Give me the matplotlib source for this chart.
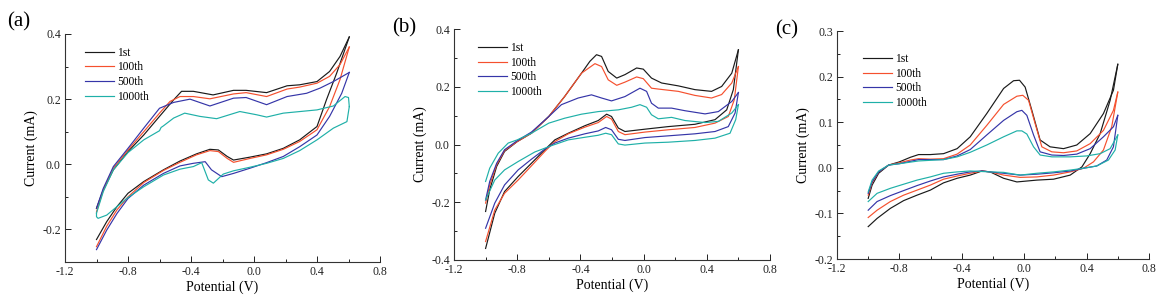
import numpy as np
from matplotlib import pyplot as plt
from matplotlib.ticker import MultipleLocator

plt.rcParams['font.family'] = ['Liberation Serif', 'DejaVu Serif']
plt.rcParams['axes.unicode_minus'] = False

labels = ['1st', '100th', '500th', '1000th']
colors = ['#1a1a1a', '#f5502e', '#3535a8', '#1fb0a8']

# ---- panel (a): (potential V, current mA), anodic branch then cathodic branch
a_1st_up = [(-1.0, -0.135), (-0.957, -0.079), (-0.893, -0.017), (-0.8, 0.039), (-0.70, 0.09), (-0.60, 0.147),
            (-0.51, 0.198), (-0.46, 0.224), (-0.385, 0.224), (-0.26, 0.213), (-0.13, 0.227), (-0.05, 0.227),
            (0.08, 0.22), (0.21, 0.241), (0.29, 0.244), (0.40, 0.254), (0.48, 0.285), (0.546, 0.331), (0.605, 0.391)]
a_1st_dn = [(0.605, 0.391), (0.525, 0.28), (0.46, 0.198), (0.40, 0.116), (0.29, 0.075), (0.186, 0.049), (0.08, 0.032),
            (-0.025, 0.022), (-0.13, 0.013), (-0.17, 0.024), (-0.226, 0.044), (-0.28, 0.046), (-0.365, 0.032),
            (-0.47, 0.01), (-0.575, -0.017), (-0.70, -0.053), (-0.80, -0.089), (-0.87, -0.13), (-0.935, -0.176), (-1.0, -0.231)]
a_100_up = [(-1.0, -0.146), (-0.957, -0.079), (-0.893, -0.012), (-0.8, 0.044), (-0.70, 0.10), (-0.60, 0.157),
            (-0.533, 0.193), (-0.47, 0.208), (-0.385, 0.208), (-0.28, 0.201), (-0.13, 0.216), (-0.05, 0.22),
            (0.08, 0.208), (0.21, 0.231), (0.29, 0.237), (0.40, 0.249), (0.48, 0.27), (0.546, 0.306), (0.605, 0.36)]
a_100_dn = [(0.605, 0.36), (0.546, 0.26), (0.48, 0.177), (0.40, 0.106), (0.29, 0.07), (0.186, 0.046), (0.08, 0.029),
            (-0.025, 0.018), (-0.13, 0.006), (-0.17, 0.018), (-0.226, 0.039), (-0.28, 0.042), (-0.365, 0.029),
            (-0.47, 0.006), (-0.575, -0.019), (-0.70, -0.056), (-0.80, -0.10), (-0.87, -0.14), (-0.935, -0.19), (-1.0, -0.253)]
a_500_up = [(-1.0, -0.135), (-0.957, -0.074), (-0.893, -0.007), (-0.8, 0.049), (-0.70, 0.111), (-0.60, 0.172),
            (-0.51, 0.19), (-0.406, 0.2), (-0.28, 0.179), (-0.13, 0.203), (-0.05, 0.205), (0.08, 0.183),
            (0.21, 0.208), (0.334, 0.218), (0.42, 0.234), (0.504, 0.254), (0.605, 0.282)]
a_500_dn = [(0.605, 0.282), (0.557, 0.218), (0.48, 0.147), (0.40, 0.09), (0.29, 0.054), (0.186, 0.024), (0.08, 0.005),
            (-0.025, -0.012), (-0.13, -0.028), (-0.205, -0.038), (-0.27, -0.017), (-0.31, 0.008), (-0.385, 0.003),
            (-0.47, -0.005), (-0.575, -0.028), (-0.70, -0.064), (-0.80, -0.105), (-0.87, -0.151), (-0.935, -0.202), (-1.0, -0.262)]
a_1000_up = [(-1.0, -0.15), (-0.957, -0.084), (-0.893, -0.017), (-0.8, 0.036), (-0.70, 0.075), (-0.618, 0.098),
             (-0.60, 0.103), (-0.59, 0.113), (-0.575, 0.118), (-0.51, 0.142), (-0.44, 0.157), (-0.343, 0.147),
             (-0.237, 0.14), (-0.09, 0.162), (0.017, 0.152), (0.08, 0.145), (0.186, 0.157), (0.40, 0.167),
             (0.504, 0.179), (0.578, 0.208), (0.60, 0.205), (0.605, 0.177)]
a_1000_dn = [(0.605, 0.177), (0.59, 0.131), (0.504, 0.111), (0.40, 0.075), (0.29, 0.042), (0.186, 0.018), (0.08, 0.003),
             (-0.025, -0.009), (-0.13, -0.02), (-0.195, -0.03), (-0.258, -0.058), (-0.29, -0.048), (-0.332, 0.005),
             (-0.385, -0.007), (-0.47, -0.015), (-0.575, -0.033), (-0.70, -0.069), (-0.80, -0.102), (-0.87, -0.13),
             (-0.935, -0.156), (-0.99, -0.166), (-1.0, -0.161), (-1.0, -0.15)]

# ---- panel (b)
b_1st_up = [(-1.0, -0.232), (-0.974, -0.157), (-0.93, -0.076), (-0.88, -0.024), (-0.80, 0.01), (-0.71, 0.039),
            (-0.60, 0.097), (-0.50, 0.166), (-0.393, 0.247), (-0.34, 0.288), (-0.298, 0.311), (-0.266, 0.305),
            (-0.224, 0.253), (-0.17, 0.23), (-0.118, 0.242), (-0.044, 0.265), (-0.002, 0.261), (0.05, 0.23),
            (0.114, 0.213), (0.22, 0.203), (0.325, 0.19), (0.43, 0.184), (0.494, 0.201), (0.558, 0.247), (0.60, 0.328)]
b_1st_dn = [(0.60, 0.328), (0.568, 0.19), (0.526, 0.12), (0.452, 0.086), (0.325, 0.07), (0.156, 0.062), (0.008, 0.053),
            (-0.118, 0.045), (-0.16, 0.057), (-0.203, 0.097), (-0.234, 0.105), (-0.287, 0.083), (-0.372, 0.065),
            (-0.477, 0.039), (-0.562, 0.016), (-0.625, -0.018), (-0.71, -0.065), (-0.794, -0.111), (-0.88, -0.163),
            (-0.942, -0.238), (-1.0, -0.36)]
b_100_up = [(-1.0, -0.203), (-0.974, -0.14), (-0.93, -0.07), (-0.88, -0.021), (-0.80, 0.01), (-0.71, 0.039),
            (-0.60, 0.097), (-0.50, 0.166), (-0.393, 0.247), (-0.308, 0.28), (-0.266, 0.27), (-0.224, 0.224),
            (-0.17, 0.205), (-0.118, 0.216), (-0.044, 0.234), (-0.002, 0.228), (0.05, 0.195), (0.093, 0.192),
            (0.22, 0.184), (0.325, 0.17), (0.43, 0.161), (0.494, 0.173), (0.558, 0.213), (0.60, 0.27)]
b_100_dn = [(0.60, 0.27), (0.574, 0.155), (0.536, 0.097), (0.452, 0.074), (0.325, 0.059), (0.156, 0.051), (0.008, 0.043),
            (-0.118, 0.034), (-0.16, 0.045), (-0.203, 0.088), (-0.234, 0.097), (-0.287, 0.076), (-0.372, 0.06),
            (-0.477, 0.037), (-0.562, 0.01), (-0.625, -0.024), (-0.71, -0.074), (-0.794, -0.123), (-0.88, -0.169),
            (-0.942, -0.227), (-1.0, -0.336)]
b_500_up = [(-1.0, -0.192), (-0.974, -0.128), (-0.93, -0.065), (-0.88, -0.018), (-0.80, 0.013), (-0.71, 0.043),
            (-0.60, 0.097), (-0.52, 0.138), (-0.414, 0.161), (-0.33, 0.172), (-0.266, 0.161), (-0.203, 0.151),
            (-0.118, 0.166), (-0.023, 0.195), (0.019, 0.184), (0.05, 0.143), (0.093, 0.126), (0.177, 0.126),
            (0.262, 0.117), (0.389, 0.106), (0.473, 0.114), (0.558, 0.149), (0.60, 0.18)]
b_500_dn = [(0.60, 0.18), (0.579, 0.109), (0.536, 0.062), (0.452, 0.045), (0.325, 0.037), (0.156, 0.03), (0.008, 0.024),
            (-0.118, 0.014), (-0.16, 0.018), (-0.203, 0.051), (-0.24, 0.059), (-0.287, 0.047), (-0.372, 0.037),
            (-0.477, 0.022), (-0.562, 0.005), (-0.625, -0.016), (-0.71, -0.051), (-0.794, -0.088), (-0.88, -0.14),
            (-0.942, -0.203), (-1.0, -0.29)]
b_1000_up = [(-1.0, -0.128), (-0.974, -0.082), (-0.92, -0.03), (-0.857, 0.005), (-0.80, 0.016), (-0.71, 0.039),
             (-0.60, 0.074), (-0.50, 0.091), (-0.393, 0.105), (-0.287, 0.114), (-0.16, 0.12), (-0.076, 0.129),
             (-0.023, 0.138), (0.019, 0.129), (0.05, 0.103), (0.093, 0.089), (0.177, 0.094), (0.262, 0.083),
             (0.389, 0.076), (0.473, 0.08), (0.558, 0.109), (0.60, 0.138)]
b_1000_dn = [(0.60, 0.138), (0.583, 0.086), (0.547, 0.039), (0.452, 0.022), (0.325, 0.014), (0.156, 0.008), (0.008, 0.005),
             (-0.118, -0.002), (-0.16, 0.002), (-0.203, 0.034), (-0.24, 0.039), (-0.287, 0.032), (-0.372, 0.025),
             (-0.477, 0.016), (-0.583, -0.004), (-0.689, -0.026), (-0.794, -0.059), (-0.88, -0.088), (-0.942, -0.123),
             (-1.0, -0.192)]

# ---- panel (c)
c_1st_up = [(-1.0, -0.067), (-0.975, -0.038), (-0.933, -0.012), (-0.869, 0.006), (-0.80, 0.013), (-0.73, 0.023),
            (-0.677, 0.029), (-0.602, 0.029), (-0.517, 0.031), (-0.43, 0.042), (-0.346, 0.068), (-0.24, 0.119),
            (-0.132, 0.174), (-0.068, 0.191), (-0.03, 0.192), (0.006, 0.177), (0.049, 0.126), (0.102, 0.061),
            (0.166, 0.046), (0.252, 0.042), (0.337, 0.05), (0.423, 0.075), (0.508, 0.119), (0.572, 0.17), (0.60, 0.227)]
c_1st_dn = [(0.60, 0.227), (0.551, 0.148), (0.487, 0.075), (0.423, 0.031), (0.37, 0.002), (0.295, -0.016), (0.188, -0.025),
            (0.081, -0.027), (-0.047, -0.031), (-0.132, -0.023), (-0.218, -0.009), (-0.271, -0.007), (-0.346, -0.016),
            (-0.43, -0.023), (-0.517, -0.033), (-0.602, -0.049), (-0.687, -0.06), (-0.773, -0.072), (-0.858, -0.089),
            (-0.943, -0.111), (-1.0, -0.129)]
c_100_up = [(-1.0, -0.06), (-0.975, -0.033), (-0.933, -0.009), (-0.869, 0.006), (-0.80, 0.011), (-0.73, 0.017),
            (-0.677, 0.02), (-0.602, 0.019), (-0.517, 0.02), (-0.43, 0.03), (-0.346, 0.05), (-0.24, 0.093),
            (-0.132, 0.139), (-0.047, 0.157), (-0.009, 0.159), (0.028, 0.148), (0.07, 0.097), (0.113, 0.046),
            (0.177, 0.035), (0.252, 0.033), (0.337, 0.037), (0.423, 0.053), (0.508, 0.082), (0.572, 0.126), (0.60, 0.166)]
c_100_dn = [(0.60, 0.166), (0.561, 0.09), (0.508, 0.039), (0.444, 0.013), (0.38, -0.001), (0.295, -0.009), (0.188, -0.016),
            (0.081, -0.02), (-0.026, -0.021), (-0.132, -0.016), (-0.218, -0.009), (-0.271, -0.007), (-0.346, -0.012),
            (-0.43, -0.018), (-0.517, -0.025), (-0.602, -0.038), (-0.687, -0.049), (-0.773, -0.06), (-0.858, -0.074),
            (-0.943, -0.093), (-1.0, -0.109)]
c_500_up = [(-1.0, -0.056), (-0.975, -0.031), (-0.933, -0.009), (-0.869, 0.006), (-0.80, 0.009), (-0.677, 0.018),
            (-0.517, 0.018), (-0.43, 0.026), (-0.346, 0.04), (-0.24, 0.072), (-0.132, 0.104), (-0.047, 0.123),
            (-0.015, 0.126), (0.017, 0.115), (0.06, 0.072), (0.102, 0.035), (0.177, 0.028), (0.252, 0.027),
            (0.337, 0.03), (0.423, 0.042), (0.508, 0.068), (0.572, 0.09), (0.60, 0.115)]
c_500_dn = [(0.60, 0.115), (0.572, 0.046), (0.529, 0.017), (0.465, 0.004), (0.38, -0.001), (0.295, -0.007), (0.188, -0.011),
            (0.081, -0.014), (-0.026, -0.016), (-0.132, -0.012), (-0.218, -0.009), (-0.271, -0.007), (-0.346, -0.009),
            (-0.43, -0.014), (-0.517, -0.02), (-0.602, -0.029), (-0.687, -0.039), (-0.773, -0.05), (-0.858, -0.061),
            (-0.943, -0.074), (-1.0, -0.093)]
c_1000_up = [(-1.0, -0.053), (-0.975, -0.027), (-0.933, -0.007), (-0.869, 0.006), (-0.80, 0.009), (-0.677, 0.015),
             (-0.517, 0.018), (-0.43, 0.024), (-0.346, 0.034), (-0.24, 0.05), (-0.132, 0.068), (-0.047, 0.081),
             (-0.015, 0.081), (0.017, 0.074), (0.06, 0.046), (0.102, 0.028), (0.177, 0.024), (0.295, 0.024),
             (0.40, 0.026), (0.487, 0.031), (0.551, 0.042), (0.60, 0.072)]
c_1000_dn = [(0.60, 0.072), (0.583, 0.039), (0.54, 0.017), (0.465, 0.004), (0.38, -0.001), (0.295, -0.005), (0.188, -0.009),
             (0.081, -0.012), (-0.026, -0.016), (-0.132, -0.01), (-0.218, -0.009), (-0.346, -0.007), (-0.43, -0.009),
             (-0.517, -0.012), (-0.602, -0.02), (-0.687, -0.027), (-0.773, -0.036), (-0.858, -0.045), (-0.943, -0.056),
             (-1.0, -0.074)]

panels = [
    ('(a)', [a_1st_up, a_100_up, a_500_up, a_1000_up], [a_1st_dn, a_100_dn, a_500_dn, a_1000_dn],
     [65, 34, 380, 262], (-0.3, 0.4), 0.2, 0.1, (0.063, 0.945), (7, 22)),
    ('(b)', [b_1st_up, b_100_up, b_500_up, b_1000_up], [b_1st_dn, b_100_dn, b_500_dn, b_1000_dn],
     [454, 29, 770, 260], (-0.4, 0.4), 0.2, 0.1, (0.076, 0.945), (392, 28)),
    ('(c)', [c_1st_up, c_100_up, c_500_up, c_1000_up], [c_1st_dn, c_100_dn, c_500_dn, c_1000_dn],
     [837, 31, 1149, 259], (-0.2, 0.3), 0.1, 0.05, (0.083, 0.905), (775, 30)),
]

W, H = 1161, 301
fig = plt.figure(figsize=(W / 100, H / 100), dpi=100)

for tag, ups, dns, box, ylim, ymaj, ymin, legpos, tagpos in panels:
    l, t, r, b = box
    ax = fig.add_axes([l / W, (H - b) / H, (r - l) / W, (b - t) / H])
    for up, dn, lab, col in zip(ups, dns, labels, colors):
        up = np.array(up)
        dn = np.array(dn)
        ax.plot(up[:, 0], up[:, 1], color=col, lw=0.85, label=lab)
        ax.plot(dn[:, 0], dn[:, 1], color=col, lw=0.85)
    ax.set_xlim(-1.2, 0.8)
    ax.set_ylim(*ylim)
    ax.xaxis.set_major_locator(MultipleLocator(0.4))
    ax.xaxis.set_minor_locator(MultipleLocator(0.2))
    ax.yaxis.set_major_locator(MultipleLocator(ymaj))
    ax.yaxis.set_minor_locator(MultipleLocator(ymin))
    ax.xaxis.set_major_formatter(plt.FuncFormatter(lambda v, p: '%.1f' % v))
    ax.yaxis.set_major_formatter(plt.FuncFormatter(lambda v, p: '%.1f' % v))
    for s in ['top', 'right']:
        ax.spines[s].set_visible(False)
    for s in ['left', 'bottom']:
        ax.spines[s].set_linewidth(0.8)
        ax.spines[s].set_color('#333333')
    ax.tick_params(which='major', direction='in', length=4, width=0.7, labelsize=8.5, pad=3, colors='#222222')
    ax.tick_params(which='minor', direction='in', length=2.5, width=0.7, colors='#222222')
    ax.set_xlabel('Potential (V)', fontsize=10, labelpad=2)
    ax.set_ylabel('Current (mA)', fontsize=10, labelpad=3)
    ax.legend(loc='upper left', bbox_to_anchor=legpos, frameon=False, fontsize=8.3,
              handlelength=2.5, handletextpad=0.3, labelspacing=0.25, borderpad=0, borderaxespad=0)
    fig.text(tagpos[0] / W, 1 - tagpos[1] / H, tag, fontsize=15, va='center', ha='left')

fig.savefig('out.png', dpi=100)
